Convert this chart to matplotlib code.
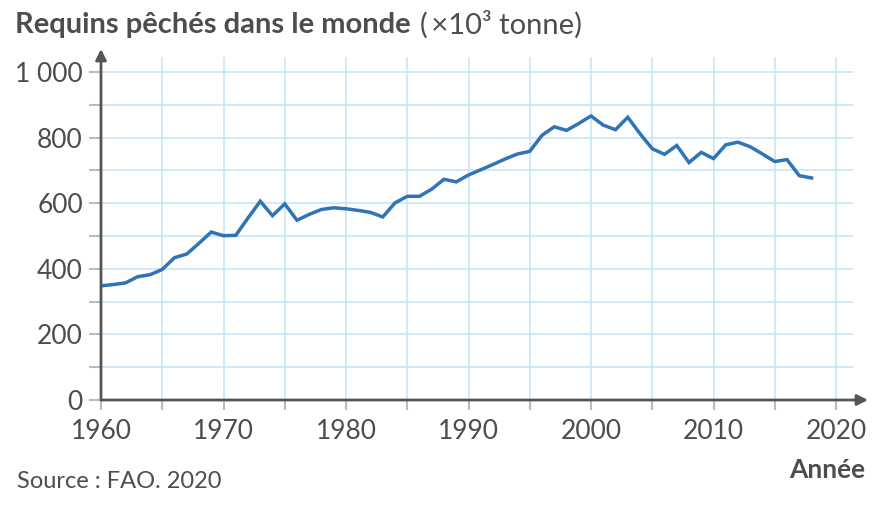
import numpy as np
import matplotlib.pyplot as plt
import matplotlib.ticker as mticker

# DATA (x10^3 tonnes)
years = list(range(1960, 2019))
catch = [
    348, 352, 357, 376, 382, 398, 434, 445, 478, 512,
    501, 502, 555, 606, 562, 598, 548, 566, 581, 586,
    583, 578, 572, 558, 601, 621, 621, 643, 673, 665,
    686, 702, 718, 735, 750, 758, 807, 833, 822, 843,
    866, 838, 824, 862, 812, 766, 749, 776, 724, 755,
    736, 778, 786, 772, 750, 727, 733, 684, 677,
]
x_major = [1960, 1970, 1980, 1990, 2000, 2010, 2020]
y_major = [0, 200, 400, 600, 800, 1000]
y_labels = ["0", "200", "400", "600", "800", "1 000"]

# STYLE
plt.rcParams["font.family"] = ["Lato", "DejaVu Sans"]
text_col = "#4d4d4d"
axis_col = "#555555"
grid_col = "#c8e6f8"
line_col = "#2f74b5"

W, H = 881, 505
fig = plt.figure(figsize=(W / 100, H / 100), dpi=100)

# AXES IN PIXEL UNITS
left, right, top, bottom = 101, 853, 57, 400
ax = fig.add_axes([left / W, 1 - bottom / H, (right - left) / W, (bottom - top) / H])

px_per_year = 12.25
ax.set_xlim(1960, 1960 + (right - left) / px_per_year)
ax.set_ylim(0, (bottom - top) / 0.328)

# GRID
ax.xaxis.set_major_locator(mticker.FixedLocator(x_major))
ax.xaxis.set_minor_locator(mticker.MultipleLocator(5))
ax.yaxis.set_major_locator(mticker.FixedLocator(y_major))
ax.yaxis.set_minor_locator(mticker.MultipleLocator(100))
ax.set_yticklabels(y_labels)

ax.grid(which="both", color=grid_col, linewidth=1.2)
ax.set_axisbelow(True)

for s in ["top", "right", "left", "bottom"]:
    ax.spines[s].set_visible(False)

ax.tick_params(which="both", direction="out", color="#bbbbbb",
               labelcolor=text_col, labelsize=19, width=1.5)
ax.tick_params(axis="x", which="both", length=7.5, pad=6)
ax.tick_params(axis="y", which="both", length=9, pad=4)

# LINE
ax.plot(years, catch, color=line_col, linewidth=2.5, solid_joinstyle="miter",
        zorder=3)

# AXIS ARROWS
ax.annotate("", xy=(868, H - bottom), xytext=(left, H - bottom),
            xycoords="figure pixels", textcoords="figure pixels",
            arrowprops=dict(arrowstyle="-|>", color=axis_col, lw=2,
                            mutation_scale=16, shrinkA=0, shrinkB=0))
ax.annotate("", xy=(left, H - 49), xytext=(left, H - bottom),
            xycoords="figure pixels", textcoords="figure pixels",
            arrowprops=dict(arrowstyle="-|>", color=axis_col, lw=2,
                            mutation_scale=16, shrinkA=0, shrinkB=0))

# TITLE
t = fig.text(15 / W, 1 - 25 / H, "Requins pêchés dans le monde",
             fontsize=21, fontweight="bold", color=text_col,
             ha="left", va="center")
fig.canvas.draw()
bb = t.get_window_extent()
fig.text((bb.x1 + 9) / W, 1 - 25 / H, "(\u2009\u00d710\u00b3 tonne)",
         fontsize=21, color=text_col, ha="left", va="center")

# FOOTER
fig.text(865 / W, 1 - 470 / H, "Année", fontsize=19, fontweight="bold",
         color=text_col, ha="right", va="center")
fig.text(17 / W, 1 - 481 / H, "Source : FAO. 2020", fontsize=17,
         color=text_col, ha="left", va="center")

fig.savefig("out.png", dpi=100)
